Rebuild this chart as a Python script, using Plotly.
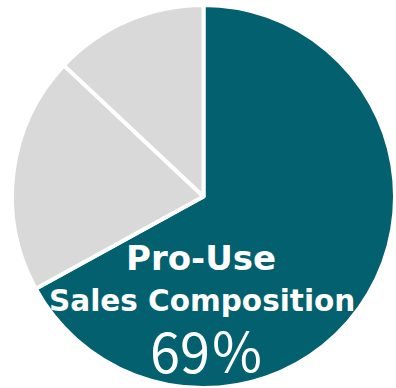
import plotly.graph_objects as go

labels = ["Pro-Use", "Other A", "Other B"]
values = [67, 20, 13]
colors = ["#03606F", "#D9D9D9", "#D9D9D9"]

title_line1 = "Pro-Use"
title_line2 = "Sales Composition"
share_text = "69％"

W, H = 396, 388

fig = go.Figure(go.Pie(
    labels=labels,
    values=values,
    sort=False,
    direction="clockwise",
    rotation=0,
    textinfo="none",
    hoverinfo="label+percent",
    marker=dict(colors=colors, line=dict(color="white", width=4)),
    domain=dict(x=[11 / W, 396 / W], y=[0, 1 - 5 / H]),
    showlegend=False,
))

bold_font = "DejaVu Sans, Verdana, sans-serif"
common = dict(xref="paper", yref="paper", xanchor="center", yanchor="middle", showarrow=False)
fig.add_annotation(x=201 / W, y=1 - 258 / H, text="<b>%s</b>" % title_line1,
                   font=dict(family=bold_font, size=34, color="white"), **common)
fig.add_annotation(x=201.5 / W, y=1 - 301 / H, text="<b>%s</b>" % title_line2,
                   font=dict(family=bold_font, size=29.5, color="white"), **common)
fig.add_annotation(x=207 / W, y=1 - 349 / H, text=share_text, borderpad=0,
                   font=dict(family="Noto Sans CJK JP, Noto Sans, sans-serif", size=54, color="white"),
                   **common)

fig.update_layout(width=W, height=H, margin=dict(l=0, r=0, t=0, b=0),
                  paper_bgcolor="white", plot_bgcolor="white")

fig.write_html("out.html", config={"displayModeBar": False},
               post_script="document.body.style.margin='0';document.body.style.overflow='hidden';")
